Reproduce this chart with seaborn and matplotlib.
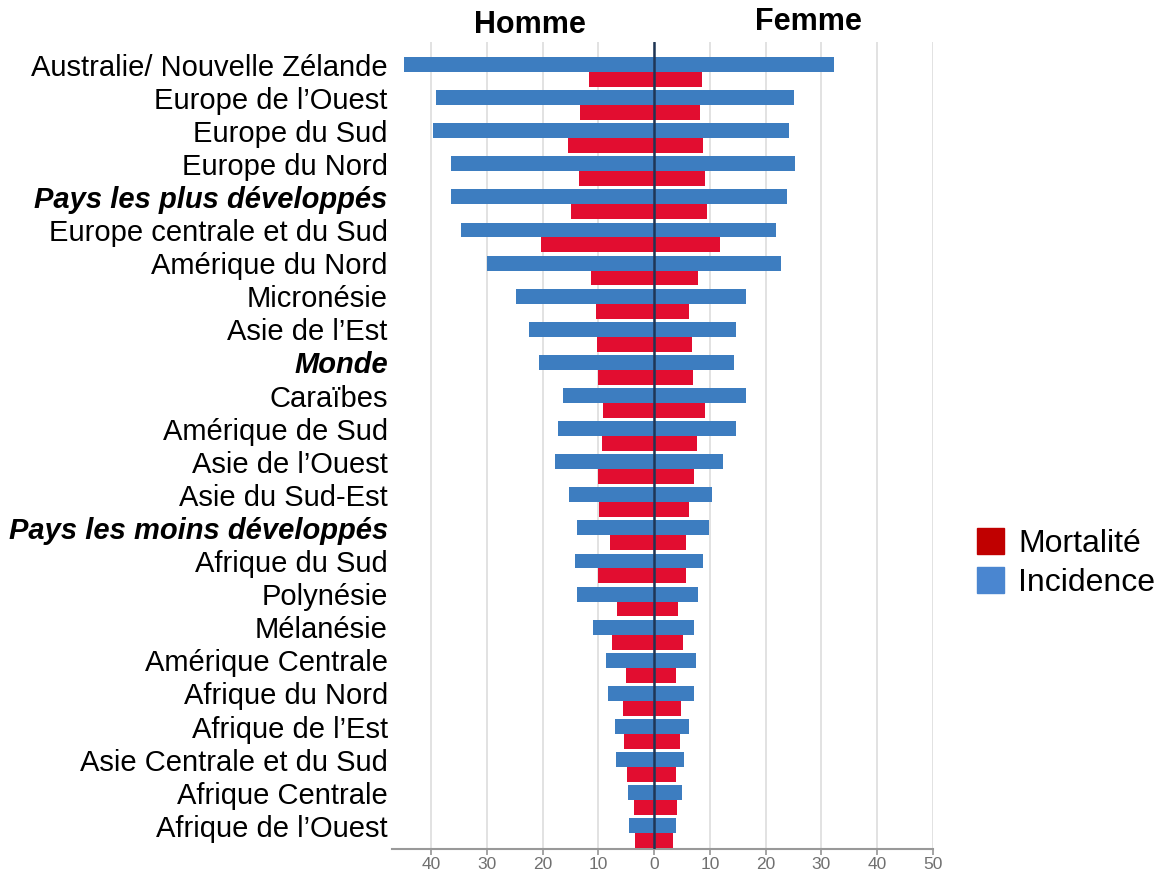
import numpy as np
import pandas as pd
import seaborn as sns
import matplotlib.pyplot as plt
from matplotlib.patches import Patch

# régions, de haut en bas
regions = [
    "Australie/ Nouvelle Zélande", "Europe de l’Ouest", "Europe du Sud", "Europe du Nord",
    "Pays les plus développés", "Europe centrale et du Sud", "Amérique du Nord", "Micronésie",
    "Asie de l’Est", "Monde", "Caraïbes", "Amérique de Sud", "Asie de l’Ouest",
    "Asie du Sud-Est", "Pays les moins développés", "Afrique du Sud", "Polynésie",
    "Mélanésie", "Amérique Centrale", "Afrique du Nord", "Afrique de l’Est",
    "Asie Centrale et du Sud", "Afrique Centrale", "Afrique de l’Ouest",
]
groupes = ["Pays les plus développés", "Monde", "Pays les moins développés"]

incidence_homme = [44.9, 39.1, 39.6, 36.5, 36.4, 34.6, 30.0, 24.8, 22.4, 20.7, 16.4, 17.2,
                   17.7, 15.2, 13.8, 14.2, 13.8, 11.0, 8.6, 8.3, 7.1, 6.9, 4.6, 4.5]
mortalite_homme = [11.6, 13.3, 15.5, 13.5, 14.9, 20.3, 11.4, 10.5, 10.2, 10.1, 9.2, 9.4,
                   10.1, 9.9, 7.9, 10.1, 6.6, 7.5, 5.0, 5.6, 5.4, 4.9, 3.6, 3.4]
incidence_femme = [32.2, 25.1, 24.2, 25.3, 23.8, 21.8, 22.7, 16.5, 14.6, 14.4, 16.5, 14.6,
                   12.4, 10.3, 9.9, 8.8, 7.9, 7.1, 7.5, 7.1, 6.2, 5.4, 5.0, 3.9]
mortalite_femme = [8.5, 8.3, 8.7, 9.1, 9.4, 11.8, 7.8, 6.3, 6.7, 7.0, 9.1, 7.6,
                   7.1, 6.3, 5.7, 5.8, 4.2, 5.2, 3.9, 4.8, 4.6, 3.9, 4.1, 3.3]

rows = []
for i, r in enumerate(regions):
    rows.append((r, "Homme", "Incidence", -incidence_homme[i]))
    rows.append((r, "Homme", "Mortalité", -mortalite_homme[i]))
    rows.append((r, "Femme", "Incidence", incidence_femme[i]))
    rows.append((r, "Femme", "Mortalité", mortalite_femme[i]))
df = pd.DataFrame(rows, columns=["region", "sexe", "mesure", "valeur"])

sns.set_theme(style="white")
plt.rcParams["font.family"] = ["Liberation Sans", "DejaVu Sans"]
plt.rcParams["text.color"] = "black"
plt.rcParams["ytick.color"] = "black"

bleu, rouge = "#3d7dc0", "#e20d30"

fig = plt.figure(figsize=(11.76, 8.76), dpi=100)
ax = fig.add_axes([392 / 1176, 1 - 849 / 876, (933 - 392) / 1176, (849 - 42) / 876])

for s in ["Homme", "Femme"]:
    sns.barplot(data=df[df.sexe == s], y="region", x="valeur", hue="mesure",
                order=regions, hue_order=["Incidence", "Mortalité"],
                palette=[bleu, rouge], saturation=1, orient="h", width=0.9, dodge=True,
                legend=False, ax=ax, zorder=3, linewidth=0)

ax.axvline(0, color="#1f3656", lw=1.8, zorder=4)
ax.set_xlim(-47, 50)
ax.set_ylim(23.475, -0.905)
ticks = np.arange(-40, 51, 10)
ax.set_xticks(ticks)
ax.set_xticklabels([str(abs(t)) for t in ticks], color="#707070", fontsize=12.5)
ax.tick_params(axis="x", length=4, color="#999999", bottom=True, pad=2)
ax.grid(axis="x", color="#dddddd", lw=1.2, zorder=0)
ax.set_yticks(np.arange(len(regions)) - 0.225)
ax.set_yticklabels(regions, fontsize=21, color="black")
ax.tick_params(axis="y", length=0, pad=3)
for lab in ax.get_yticklabels():
    if lab.get_text() in groupes:
        lab.set_fontweight("bold")
        lab.set_fontstyle("italic")
ax.set_xlabel("")
ax.set_ylabel("")
for sp in ["top", "right", "left"]:
    ax.spines[sp].set_visible(False)
ax.spines["bottom"].set_color("#999999")
ax.spines["bottom"].set_linewidth(1.5)

fig.text(530 / 1176, 1 - 25 / 876, "Homme", ha="center", va="center", fontsize=22, weight="bold")
fig.text(808 / 1176, 1 - 22 / 876, "Femme", ha="center", va="center", fontsize=22, weight="bold")

handles = [Patch(color="#c00000", label="Mortalité"), Patch(color="#4a86d0", label="Incidence")]
fig.legend(handles=handles, loc="center left", bbox_to_anchor=(0.806, 0.357), frameon=False,
           fontsize=23, handlelength=0.85, handleheight=0.85, handletextpad=0.45, labelspacing=0.25)

fig.savefig("out.png", dpi=100)
